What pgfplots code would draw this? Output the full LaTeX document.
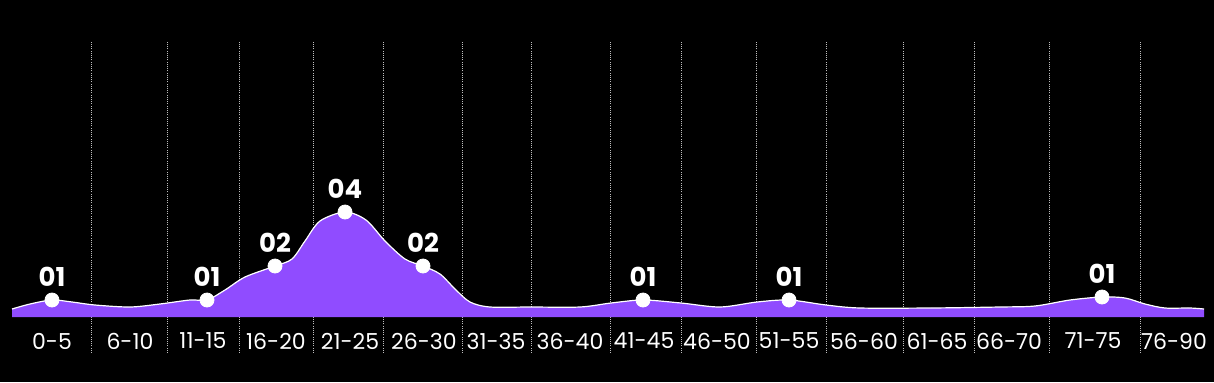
\documentclass[border=0pt]{standalone}
\usepackage{pgfplots}
\pgfplotsset{compat=1.18}
\usepackage{pgfplotstable}
\usepackage{fontspec}
\setmainfont{Poppins}
\definecolor{areapurple}{HTML}{904CFF}

\pgfplotstableread{
x h
12 8
30 13
52 17
72 15
95 12
130 10
160 13
190 17
207 17
225 27
245 40
275 51
292 58
305 76
320 96
345 105
366 97
385 76
405 58
423 51
440 43
455 28
470 15
490 10
530 10
580 10
611 14
643 17
681 14
720 10
757 15
789 17
826 12
860 9
930 9
1000 10
1035 11
1070 17
1102 20
1125 19
1145 13
1165 9
1190 9
1204 8
}\curve

\pgfplotstableread{
x h label
52 17 01
207 17 01
275 51 02
345 105 04
423 51 02
643 17 01
789 17 01
1102 20 01
}\points

\begin{document}
\begin{tikzpicture}
\begin{axis}[
  scale only axis,
  width=607pt, height=191pt,
  xmin=0, xmax=1214, ymin=-65, ymax=317,
  axis background/.style={fill=black},
  axis line style={draw=none},
  tick style={draw=none},
  ytick=\empty,
  xtick={52,130,203,276,350,424,496,570,644,717,789,864,937,1009,1093,1174},
  xticklabels={0-5,6-10,11-15,16-20,21-25,26-30,31-35,36-40,41-45,46-50,51-55,56-60,61-65,66-70,71-75,76-90},
  xticklabel style={anchor=center, yshift=20.5pt, text=white, font=\fontsize{11}{13}\selectfont},
  clip=false,
]
\pgfplotsinvokeforeach{91.7,167.7,239.3,313.7,383.3,462.7,531,610.7,681,756.7,826,903.7,974.7,1049.7,1140.3}{
  \draw[white!75!black, dash pattern=on 0.5pt off 0.6pt, line width=0.45pt] (axis cs:#1,-36) -- (axis cs:#1,276);
}
\addplot[fill=areapurple, draw=none, smooth] table[x=x,y=h] {\curve} \closedcycle;
\addplot[white, line width=0.6pt, smooth] table[x=x,y=h] {\curve};
\addplot[only marks, mark=*, mark size=3.5pt, mark options={fill=white, draw=white},
  point meta=explicit symbolic,
  nodes near coords={\pgfplotspointmeta},
  nodes near coords style={anchor=center, yshift=11.5pt, text=white, font=\bfseries\fontsize{13}{15}\selectfont}]
  table[x=x,y=h,meta=label] {\points};
\end{axis}
\end{tikzpicture}
\end{document}
